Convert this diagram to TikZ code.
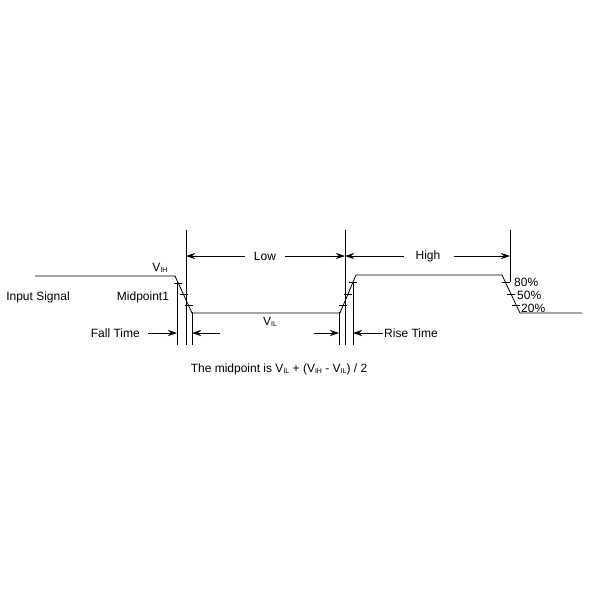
\documentclass[tikz,border=0pt]{standalone}
\usepackage{fontspec}
\setmainfont{Liberation Sans}
\usetikzlibrary{calc,arrows.meta}
\newcommand{\sbs}[1]{\raisebox{-1.5pt}{\fontsize{7}{7}\selectfont #1}}
\begin{document}
\begin{tikzpicture}[x=1pt,y=-1pt,font=\fontsize{12}{14}\selectfont,
  wave/.style={line width=0.8pt},
  guide/.style={line width=0.6pt},
  arr/.style={line width=0.6pt,-{Stealth[length=9pt,width=6pt]}},
  lbl/.style={inner sep=1pt}]
\useasboundingbox (0,0) rectangle (600,600);
% waveform
\coordinate (w0) at (35,276); \coordinate (w1) at (175,276);
\coordinate (w2) at (192,313); \coordinate (w3) at (340,313);
\coordinate (w4) at (356,275); \coordinate (w5) at (502,275);
\coordinate (w6) at (520,313); \coordinate (w7) at (582,313);
\draw[wave] (w0)--(w1)--(w2)--(w3)--(w4)--(w5)--(w6)--(w7);
% ticks
\foreach \a/\b in {w1/w2,w3/w4,w5/w6}
  \foreach \t in {0.2,0.5,0.8}
    \draw[guide] ($(\a)!\t!(\b)+(-4,0)$) -- ++(8,0);
% verticals
\coordinate (v1t) at (186,230); \coordinate (v1b) at (186,345);
\coordinate (v2t) at (345,230); \coordinate (v2b) at (345,345);
\coordinate (v3t) at (510,230); \coordinate (v3b) at (510,282);
\coordinate (f1t) at (177,282); \coordinate (f1b) at (177,345);
\coordinate (f2t) at (192,312); \coordinate (f2b) at (192,345);
\coordinate (r1t) at (339,312); \coordinate (r1b) at (339,345);
\coordinate (r2t) at (353,282); \coordinate (r2b) at (353,345);
\foreach \p in {v1,v2,v3,f1,f2,r1,r2} \draw[guide] (\p t)--(\p b);
% Low / High
\node[lbl] (low) at (265,256) {Low};
\node[lbl] (high) at (428,256) {High};
\coordinate (la) at (186,256); \coordinate (lb) at (345,256);
\coordinate (hb) at (510,256);
\draw[arr] ($(low.west)+(-8,0)$) -- (la);
\draw[arr] ($(low.east)+(8,0)$) -- (lb);
\draw[arr] ($(high.west)+(-10,0)$) -- (lb);
\draw[arr] ($(high.east)+(12,0)$) -- (hb);
% fall / rise time
\node[lbl,anchor=east] (fall) at (141,333) {Fall Time};
\draw[arr] ($(fall.east)+(7,0)$) -- (177,333);
\coordinate (fr) at (220,333);
\draw[arr] (fr) -- (192,333);
\coordinate (rl) at (314,333);
\draw[arr] (rl) -- (339,333);
\node[lbl,anchor=west] (rise) at (383,333) {Rise Time};
\draw[arr] (rise.west) -- (353,333);
% labels
\node[lbl] (vih) at (160,268) {V\sbs{IH}};
\node[lbl] (mid) at (143,297) {Midpoint1};
\node[lbl] (inp) at (38,297) {Input Signal};
\node[lbl] (vil) at (270,322) {V\sbs{IL}};
\node[lbl,anchor=west] (p80) at (513,282) {80\%};
\node[lbl,anchor=west] (p50) at (516,295) {50\%};
\node[lbl,anchor=west] (p20) at (520,308) {20\%};
\node[lbl] (eq) at (279,369) {The midpoint is V\sbs{IL} + (V\sbs{IH} - V\sbs{IL}) / 2};
\end{tikzpicture}
\end{document}
